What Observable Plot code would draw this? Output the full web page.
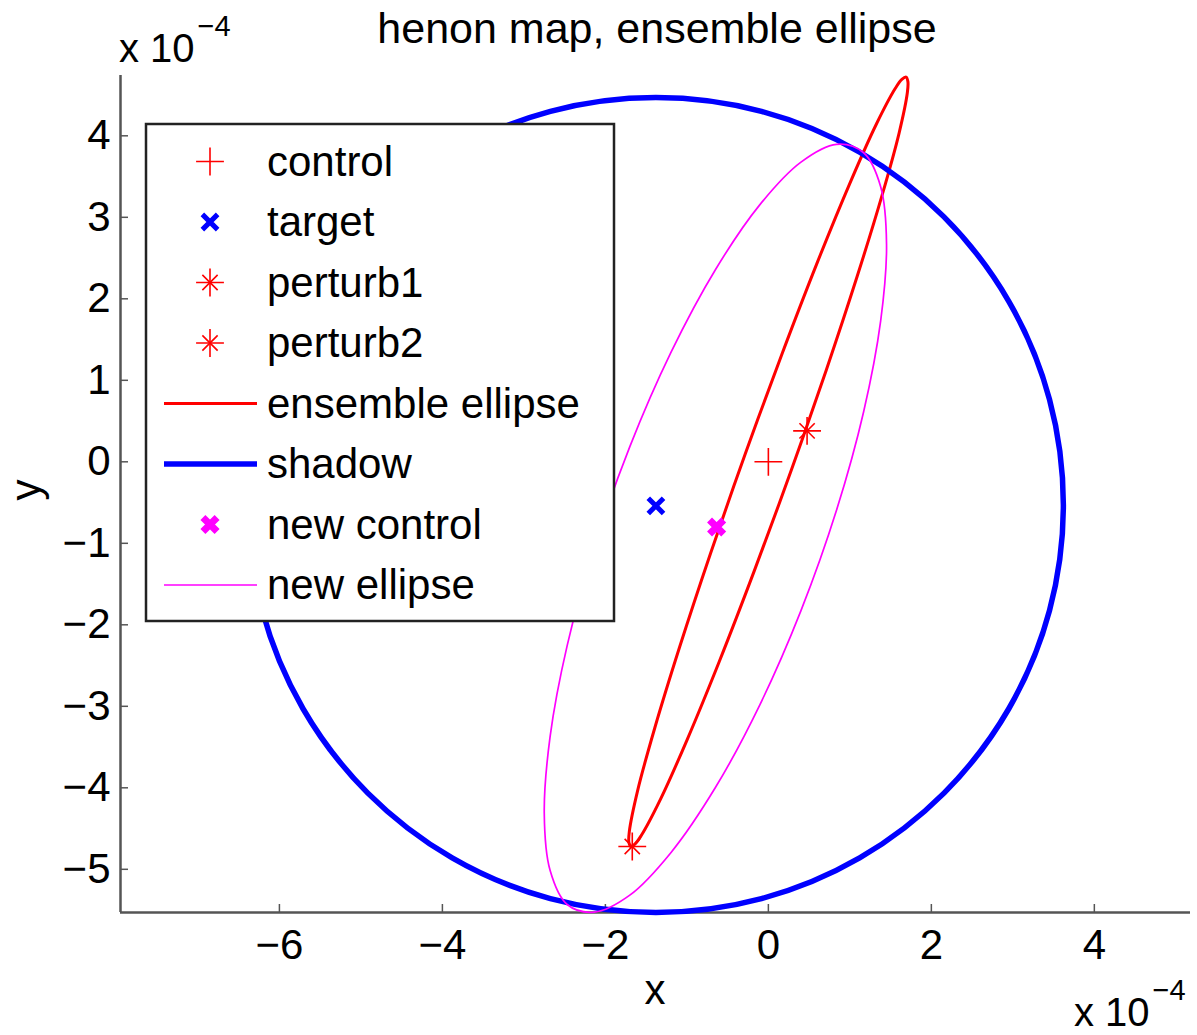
<!DOCTYPE html>
<html><head><meta charset="utf-8">
<script src="https://cdn.jsdelivr.net/npm/d3@7"></script>
<script src="https://cdn.jsdelivr.net/npm/@observablehq/plot@0.6"></script>
<style>
body{margin:0;background:#fff}
svg{font-family:"Liberation Sans",Arial,Helvetica,sans-serif}
</style>
</head><body><div id="chart"></div>
<script>
// All coordinates are in units of 1e-4 (as the axes show "x 10^-4").
const xTicks = [-6, -4, -2, 0, 2, 4];
const yTicks = [-5, -4, -3, -2, -1, 0, 1, 2, 3, 4];
const xDomain = [-7.95, 5.18];
const yDomain = [-5.53, 4.74];

// point markers
const controlPt = [{x: 0, y: 0}];
const targetPt = [{x: -1.38, y: -0.54}];
const perturb1Pt = [{x: 0.475, y: 0.38}];
const perturb2Pt = [{x: -1.67, y: -4.72}];
const newControlPt = [{x: -0.635, y: -0.80}];

// ensemble ellipse (red), points read around the curve
const ensembleX = [1.69, 1.712, 1.706, 1.605, 1.394, 1.089, 0.710, 0.282, -0.166, -0.601, -0.996, -1.323, -1.560, -1.638, -1.69, -1.712, -1.706, -1.605, -1.394, -1.089, -0.710, -0.282, 0.166, 0.601, 0.996, 1.323, 1.560, 1.638];
const ensembleY = [4.72, 4.666, 4.534, 4.037, 3.266, 2.273, 1.124, -0.101, -1.320, -2.447, -3.408, -4.139, -4.586, -4.692, -4.72, -4.666, -4.534, -4.037, -3.266, -2.273, -1.124, 0.101, 1.320, 2.447, 3.408, 4.139, 4.586, 4.692];

// shadow circle (blue)
const shadowX = [3.62, 3.45, 2.95, 2.155, 1.12, -0.085, -1.38, -2.675, -3.88, -4.915, -5.71, -6.21, -6.38, -6.21, -5.71, -4.915, -3.88, -2.675, -1.38, -0.085, 1.12, 2.155, 2.95, 3.45];
const shadowY = [-0.53, 0.765, 1.97, 3.005, 3.80, 4.30, 4.47, 4.30, 3.80, 3.005, 1.97, 0.765, -0.53, -1.825, -3.03, -4.065, -4.86, -5.36, -5.53, -5.36, -4.86, -4.065, -3.03, -1.825];

// new ellipse (magenta)
const newEllX = [1.45, 1.378, 1.169, 0.835, 0.40, -0.106, -0.65, -1.194, -1.70, -2.135, -2.469, -2.678, -2.75, -2.678, -2.469, -2.135, -1.70, -1.194, -0.65, -0.106, 0.40, 0.835, 1.169, 1.378];
const newEllY = [2.673, 3.376, 3.792, 3.895, 3.677, 3.153, 2.357, 1.345, 0.186, -1.042, -2.255, -3.370, -4.313, -5.016, -5.432, -5.525, -5.317, -4.793, -3.997, -2.985, -1.826, -0.598, 0.615, 1.730];

const legendLabels = ["control", "target", "perturb1", "perturb2", "ensemble ellipse", "shadow", "new control", "new ellipse"];
const titleText = "henon map, ensemble ellipse";

const pts = (xs, ys) => xs.map((x, i) => ({x, y: ys[i]}));
const RED = "#ff0000", BLUE = "#0000ff", MAG = "#ff00ff", AX = "#555";
const fmt = d => d < 0 ? "\u2212" + Math.abs(d) : String(d);
const FS = 42;

const chart = Plot.plot({
  width: 1197, height: 1035,
  marginLeft: 120, marginRight: 7, marginTop: 75, marginBottom: 123,
  x: {domain: xDomain, ticks: xTicks, label: null},
  y: {domain: yDomain, ticks: yTicks, label: null},
  style: {fontFamily: '"Liberation Sans",Arial,sans-serif', fontSize: FS + "px", color: "#000", background: "#fff"},
  marks: [
    Plot.axisX({ticks: xTicks, tickSize: -8, tickPadding: 25, fontSize: FS, stroke: AX, strokeWidth: 1.5, fill: "#000", label: null, tickFormat: fmt}),
    Plot.axisY({ticks: yTicks, tickSize: -8, tickPadding: 18, fontSize: FS, stroke: AX, strokeWidth: 1.5, fill: "#000", label: null, tickFormat: fmt}),
    Plot.ruleX([xDomain[0]], {stroke: AX, strokeWidth: 2.5}),
    Plot.ruleY([yDomain[0]], {stroke: AX, strokeWidth: 2.5}),
    Plot.dot(controlPt, {x: "x", y: "y", symbol: "plus", r: 9, stroke: RED, fill: "none", strokeWidth: 1.6}),
    Plot.dot(targetPt, {x: "x", y: "y", symbol: "times", r: 7, stroke: BLUE, fill: "none", strokeWidth: 5}),
    Plot.dot(perturb1Pt, {x: "x", y: "y", symbol: "plus", r: 9, stroke: RED, fill: "none", strokeWidth: 1.6}),
    Plot.dot(perturb1Pt, {x: "x", y: "y", symbol: "times", r: 7, stroke: RED, fill: "none", strokeWidth: 1.6}),
    Plot.dot(perturb2Pt, {x: "x", y: "y", symbol: "plus", r: 9, stroke: RED, fill: "none", strokeWidth: 1.6}),
    Plot.dot(perturb2Pt, {x: "x", y: "y", symbol: "times", r: 7, stroke: RED, fill: "none", strokeWidth: 1.6}),
    Plot.line(pts(ensembleX, ensembleY), {x: "x", y: "y", curve: "catmull-rom-closed", stroke: RED, strokeWidth: 3}),
    Plot.line(pts(shadowX, shadowY), {x: "x", y: "y", curve: "catmull-rom-closed", stroke: BLUE, strokeWidth: 5.5}),
    Plot.dot(newControlPt, {x: "x", y: "y", symbol: "times", r: 6.5, stroke: MAG, fill: "none", strokeWidth: 7}),
    Plot.line(pts(newEllX, newEllY), {x: "x", y: "y", curve: "catmull-rom-closed", stroke: MAG, strokeWidth: 1.7})
  ]
});
document.getElementById("chart").appendChild(chart);

const svg = d3.select(chart);
const font = '"Liberation Sans",Arial,sans-serif';

// title
svg.append("text").attr("x", 657).attr("y", 43).attr("text-anchor", "middle")
  .attr("font-size", 43).attr("font-family", font).attr("fill", "#000").text(titleText);

// exponent labels
function expLabel(x, y) {
  const t = svg.append("text").attr("x", x).attr("y", y).attr("text-anchor", "start")
    .attr("font-size", 40).attr("font-family", font).attr("fill", "#000");
  t.append("tspan").text("x 10");
  t.append("tspan").attr("dy", -26).attr("dx", 3).attr("font-size", 29).text("\u22124");
}
expLabel(119, 62);
expLabel(1074, 1026);

// axis labels
svg.append("text").attr("x", 655).attr("y", 1004).attr("text-anchor", "middle")
  .attr("font-size", FS).attr("font-family", font).text("x");
svg.append("text").attr("transform", "translate(40,490) rotate(-90)").attr("text-anchor", "middle")
  .attr("font-size", FS).attr("font-family", font).text("y");

// legend
const lg = svg.append("g");
lg.append("rect").attr("x", 146).attr("y", 124).attr("width", 468).attr("height", 497)
  .attr("fill", "#fff").attr("stroke", "#222").attr("stroke-width", 2.5);
const rowY = i => 161.5 + i * 60.5;
const sym = (type, r) => d3.symbol(type, Math.PI * r * r)();
legendLabels.forEach((lab, i) => {
  const y = rowY(i), mx = 210;
  const g = lg.append("g");
  if (lab === "control") g.append("path").attr("d", sym(d3.symbolPlus, 9)).attr("transform", `translate(${mx},${y})`).attr("stroke", RED).attr("stroke-width", 1.6).attr("fill", "none");
  if (lab === "target") g.append("path").attr("d", sym(d3.symbolTimes, 7)).attr("transform", `translate(${mx},${y})`).attr("stroke", BLUE).attr("stroke-width", 5).attr("fill", "none");
  if (lab === "perturb1" || lab === "perturb2") {
    g.append("path").attr("d", sym(d3.symbolPlus, 9)).attr("transform", `translate(${mx},${y})`).attr("stroke", RED).attr("stroke-width", 1.6).attr("fill", "none");
    g.append("path").attr("d", sym(d3.symbolTimes, 7)).attr("transform", `translate(${mx},${y})`).attr("stroke", RED).attr("stroke-width", 1.6).attr("fill", "none");
  }
  if (lab === "ensemble ellipse") g.append("line").attr("x1", 164).attr("x2", 257).attr("y1", y).attr("y2", y).attr("stroke", RED).attr("stroke-width", 3);
  if (lab === "shadow") g.append("line").attr("x1", 164).attr("x2", 257).attr("y1", y).attr("y2", y).attr("stroke", BLUE).attr("stroke-width", 5.5);
  if (lab === "new control") g.append("path").attr("d", sym(d3.symbolTimes, 6.5)).attr("transform", `translate(${mx},${y})`).attr("stroke", MAG).attr("stroke-width", 7).attr("fill", "none");
  if (lab === "new ellipse") g.append("line").attr("x1", 164).attr("x2", 257).attr("y1", y).attr("y2", y).attr("stroke", MAG).attr("stroke-width", 1.7);
  g.append("text").attr("x", 267).attr("y", y + 14).attr("text-anchor", "start")
    .attr("font-size", FS).attr("font-family", font).attr("fill", "#000").text(lab);
});
</script>
</body></html>
